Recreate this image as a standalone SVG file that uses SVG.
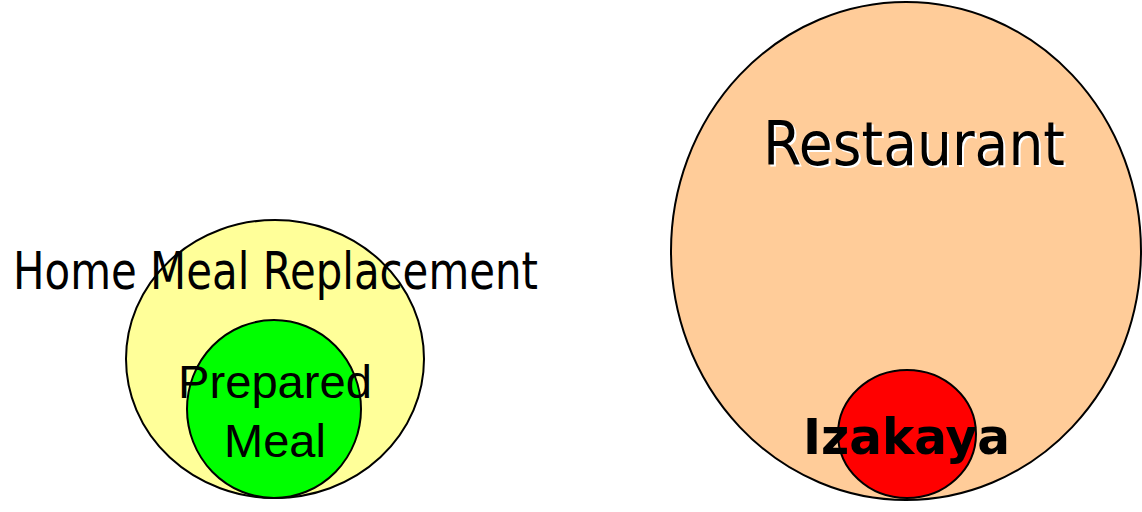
<svg xmlns="http://www.w3.org/2000/svg" width="1142" height="512" viewBox="0 0 1142 512">
<style>
.c{stroke:#000;stroke-width:2}
.t{font-family:"DejaVu Sans",Verdana,sans-serif;fill:#000}
.a{font-family:"Liberation Sans",Arial,sans-serif;fill:#000}
</style>
<rect width="1142" height="512" fill="#fff"/>
<g id="hmr">
<ellipse class="c" cx="275" cy="359" rx="149" ry="139" fill="#ffff99"/>
</g>
<g id="prepared">
<ellipse class="c" cx="274" cy="409" rx="87" ry="89" fill="#00ff00"/>
</g>
<g id="restaurant">
<ellipse class="c" cx="906" cy="251" rx="235" ry="249" fill="#ffcc99"/>
</g>
<g id="izakaya">
<ellipse class="c" cx="907" cy="434" rx="69" ry="64" fill="#ff0000"/>
</g>
<g id="connectors"></g>
<g id="labels">
<text class="t" x="13" y="289" font-size="51" textLength="525" lengthAdjust="spacingAndGlyphs">Home Meal Replacement</text>
<text class="a" x="275" y="398" font-size="47" text-anchor="middle" textLength="194" lengthAdjust="spacingAndGlyphs">Prepared</text>
<text class="a" x="275" y="457" font-size="47" text-anchor="middle">Meal</text>
<text class="t" x="765" y="167" font-size="60" style="fill:#fff" textLength="302" lengthAdjust="spacingAndGlyphs">Restaurant</text>
<text class="t" x="763" y="165" font-size="60" textLength="302" lengthAdjust="spacingAndGlyphs">Restaurant</text>
<text class="t" x="803" y="454" font-size="49" font-weight="bold" textLength="207" lengthAdjust="spacingAndGlyphs">Izakaya</text>
</g>
</svg>
